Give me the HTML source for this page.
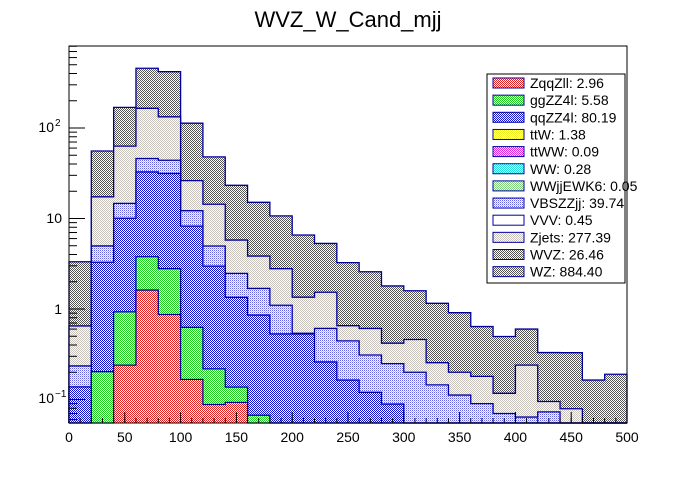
<!DOCTYPE html>
<html><head><meta charset="utf-8"><style>
body{margin:0;background:#fff;width:696px;height:472px;overflow:hidden}
svg text{font-family:"Liberation Sans",Arial,sans-serif}
</style></head><body>
<svg id="c" width="696" height="472" xmlns="http://www.w3.org/2000/svg">
<defs>
<pattern id="pWZ" width="2" height="2" patternUnits="userSpaceOnUse"><rect width="2" height="2" fill="#fff"/><rect width="1" height="1" fill="#555"/><rect x="1" y="1" width="1" height="1" fill="#555"/></pattern>
<pattern id="pZj" width="2" height="2" patternUnits="userSpaceOnUse"><rect width="2" height="2" fill="#fff"/><rect width="1" height="1" fill="#c8c2bc"/><rect x="1" y="1" width="1" height="1" fill="#c8c2bc"/></pattern>
<pattern id="pVBS" width="2" height="2" patternUnits="userSpaceOnUse"><rect width="2" height="2" fill="#fff"/><rect width="1" height="1" fill="#6060e0"/><rect x="1" y="1" width="1" height="1" fill="#b8b8f0"/></pattern>
<pattern id="pQQ" width="2" height="2" patternUnits="userSpaceOnUse"><rect width="2" height="2" fill="#fff"/><rect width="1" height="1" fill="#1010d0"/><rect x="1" y="1" width="1" height="1" fill="#1010d0"/></pattern>
<pattern id="pGG" width="2" height="2" patternUnits="userSpaceOnUse"><rect width="2" height="2" fill="#fff"/><rect width="1" height="1" fill="#20d020"/><rect x="1" y="1" width="1" height="1" fill="#20d020"/></pattern>
<pattern id="pZq" width="2" height="2" patternUnits="userSpaceOnUse"><rect width="2" height="2" fill="#fff"/><rect width="1" height="1" fill="#e02020"/><rect x="1" y="1" width="1" height="1" fill="#e02020"/></pattern>
<pattern id="pY" width="2" height="2" patternUnits="userSpaceOnUse"><rect width="2" height="2" fill="#fff"/><rect width="1" height="1" fill="#f0f020"/><rect x="1" y="1" width="1" height="1" fill="#f0f020"/></pattern>
<pattern id="pM" width="2" height="2" patternUnits="userSpaceOnUse"><rect width="2" height="2" fill="#fff"/><rect width="1" height="1" fill="#e020e0"/><rect x="1" y="1" width="1" height="1" fill="#e020e0"/></pattern>
<pattern id="pC" width="2" height="2" patternUnits="userSpaceOnUse"><rect width="2" height="2" fill="#fff"/><rect width="1" height="1" fill="#20e0e0"/><rect x="1" y="1" width="1" height="1" fill="#20e0e0"/></pattern>
<pattern id="pLG" width="2" height="2" patternUnits="userSpaceOnUse"><rect width="2" height="2" fill="#fff"/><rect width="1" height="1" fill="#80d080"/><rect x="1" y="1" width="1" height="1" fill="#80d080"/></pattern>
</defs>
<text x="348" y="27" font-size="22" text-anchor="middle">WVZ_W_Cand_mjj</text>
<g id="bars"></g>
<rect x="69" y="46" width="558" height="377" fill="none" stroke="#000" stroke-width="1"/>
<g id="axes"></g>
<g id="legend"></g>
</svg>
<script>
const binEdges0 = 0, binWidth = 20, nBins = 25;
const ZqqZll  = [0,0,0.24,1.62,0.87,0.167,0.088,0.093,0,0,0,0,0,0,0,0,0,0,0,0,0,0,0,0,0];
const ggZZ4l  = [0,0.203,0.69,2.16,1.92,0.46,0.13,0.044,0.067,0,0,0,0,0,0,0,0,0,0,0,0,0,0,0,0];
const qqZZ4l  = [0.138,3.08,9.13,28.9,28.7,7.61,2.76,1.21,0.79,0.53,0.53,0.26,0.164,0.12,0.089,0,0,0,0,0,0,0,0,0,0];
const VBSZZjj = [0.097,1.69,4.64,13.3,12.5,3.96,1.99,1.13,0.83,0.57,0.01,0.35,0.28,0.19,0.16,0.2,0.145,0.112,0.09,0.07,0.064,0.073,0,0,0];
const Zjets   = [0.415,12.4,48.3,119,89,14,9.4,3.3,2.16,1.69,0.81,0.92,0.21,0.3,0.17,0.26,0.11,0.088,0.09,0.047,0.176,0.022,0.079,0,0];
const WZ      = [2.68,38.3,106,292,286,86.8,33.6,17.5,11.25,7.9,5.22,3.77,2.6,1.97,1.38,1.13,0.9,0.71,0.46,0.38,0.36,0.235,0.25,0.164,0.19];
const xTicks = [0,50,100,150,200,250,300,350,400,450,500];
const legendLabels = ["ZqqZll: 2.96","ggZZ4l: 5.58","qqZZ4l: 80.19","ttW: 1.38","ttWW: 0.09","WW: 0.28","WWjjEWK6: 0.05","VBSZZjj: 39.74","VVV: 0.45","Zjets: 277.39","WVZ: 26.46","WZ: 884.40"];
const legendFills = ["url(#pZq)","url(#pGG)","url(#pQQ)","url(#pY)","url(#pM)","url(#pC)","url(#pLG)","url(#pVBS)","#fff","url(#pZj)","url(#pWZ)","url(#pWZ)"];

const NS="http://www.w3.org/2000/svg";
const X0=69,X1=627,Y0=423,Y1=46;
const xs=v=>X0+(v-0)/500*(X1-X0);
const ys=v=>309-Math.log10(Math.max(v,1e-3))*90.5;
const clampY=y=>Math.min(Y0,Math.max(Y1,y));
function mk(t,a,p){const e=document.createElementNS(NS,t);for(const k in a)e.setAttribute(k,a[k]);p.appendChild(e);return e;}
const bars=document.getElementById('bars');
const layers=[[ZqqZll,"url(#pZq)","zqqzll"],[ggZZ4l,"url(#pGG)","ggzz4l"],[qqZZ4l,"url(#pQQ)","qqzz4l"],[VBSZZjj,"url(#pVBS)","vbszzjj"],[Zjets,"url(#pZj)","zjets"],[WZ,"url(#pWZ)","wz"]];
const cum=new Array(nBins).fill(0);
const tops=[];
layers.forEach(L=>{const t=[];for(let i=0;i<nBins;i++){cum[i]+=L[0][i];t.push(cum[i]);}tops.push(t);});
for(let li=layers.length-1;li>=0;li--){
  const t=tops[li];
  for(let i=0;i<nBins;i++){
    if(t[i]<=0)continue;
    const y=clampY(ys(t[i]));
    const xa=xs(binEdges0+i*binWidth),xb=xs(binEdges0+(i+1)*binWidth);
    if(y>=Y0)continue;
    const r=mk('rect',{x:xa,y:y,width:xb-xa,height:Y0-y,fill:layers[li][1],stroke:'none'},bars);
    
    
  }
  let d='';
  for(let i=0;i<nBins;i++){
    const y=clampY(ys(t[i]));const xa=xs(i*binWidth),xb=xs((i+1)*binWidth);
    d+=(i==0?'M'+xa+' '+Y0+' L':'L')+xa+' '+y+' L'+xb+' '+y+' ';
  }
  d+='L'+X1+' '+Y0;
  const p=mk('path',{d:d,fill:'none',stroke:'#0000a0','stroke-width':1.3},bars);
  
  
}
const ax=document.getElementById('axes');
xTicks.forEach(v=>{const x=xs(v);
  mk('line',{x1:x,y1:Y0,x2:x,y2:Y0-11,stroke:'#000'},ax);
  const t=mk('text',{x:x,y:442,'font-size':14,'text-anchor':'middle'},ax);t.textContent=v;
  
  
});
for(let v=0;v<500;v+=10){const x=xs(v);mk('line',{x1:x,y1:Y0,x2:x,y2:Y0-5,stroke:'#000'},ax);}
for(let e=-2;e<3;e++)for(let m=1;m<10;m++){const v=m*Math.pow(10,e),y=ys(v);if(y>Y0||y<Y1)continue;
  mk('line',{x1:X0,y1:y,x2:X0+(m==1?16:8),y2:y,stroke:'#000'},ax);}
const yl=[["10","2",127],["10","",218],["1","",309],["10","−1",398]];
yl.forEach(a=>{const t=mk('text',{x:a[1]?54:62,y:a[2]+5,'font-size':14,'text-anchor':'end'},ax);t.textContent=a[0];
  
  if(a[1]){const s=mk('text',{x:55,y:a[2]-1,'font-size':10},ax);s.textContent=a[1];}});
const lg=document.getElementById('legend');
mk('rect',{x:487,y:74,width:138,height:209,fill:'#fff',stroke:'#000'},lg);
legendLabels.forEach((s,i)=>{const yc=83+i*17.15;
  const sw=mk('rect',{x:493,y:yc-5,width:31,height:10,fill:legendFills[i],stroke:'#0000a0'},lg);
  
  const t=mk('text',{x:530,y:yc+5,'font-size':14},lg);t.textContent=s;
  });
</script>
</body></html>
